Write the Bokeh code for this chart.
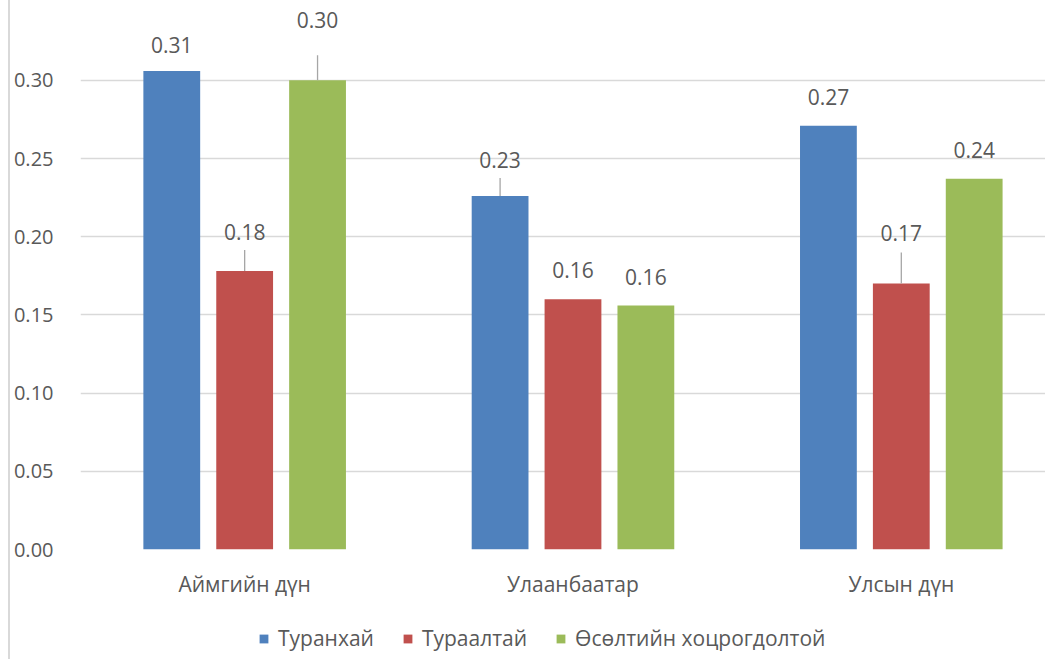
from bokeh.plotting import figure
from bokeh.layouts import column
from bokeh.models import (ColumnDataSource, Range1d, FixedTicker, Legend, LegendItem)
from bokeh.core.properties import value
from bokeh.embed import file_html
from bokeh.resources import INLINE

# ---- data ----
categories = ["Аймгийн дүн", "Улаанбаатар", "Улсын дүн"]
series_names = ["Туранхай", "Тураалтай", "Өсөлтийн хоцрогдолтой"]
turankhai = [0.306, 0.226, 0.271]
turaaltai = [0.178, 0.160, 0.170]
osolt = [0.300, 0.156, 0.237]
y_ticks = [0.00, 0.05, 0.10, 0.15, 0.20, 0.25, 0.30]
y_tick_labels = ["0.00", "0.05", "0.10", "0.15", "0.20", "0.25", "0.30"]

# ---- layout / style ----
colors = ["#4F81BD", "#C0504D", "#9BBB59"]
text_color = "#595959"
font = "Open Sans"
W = 1035
H_main, H_leg = 608, 51
frame_left = 68
frame_h = 549
cat_px = 329.0
px_per_unit = 1564.0
ymax = frame_h / px_per_unit
xend = (W - frame_left) / cat_px
offsets = [-0.222, 0.0, 0.222]
bar_w = 0.173
# label offset above bar top (px) and leader line length (px), per series per category
label_off = [[26, 36, 29], [39, 29, 51], [60, 29, 29]]
leader_len = [[0, 18, 0], [21, 0, 31], [25, 0, 0]]

p = figure(width=W, height=H_main, output_backend="svg", toolbar_location=None,
           x_range=Range1d(0, xend), y_range=Range1d(0, ymax),
           min_border_left=frame_left, min_border_right=0, min_border_top=0,
           min_border_bottom=H_main - frame_h)
p.outline_line_color = None
p.background_fill_color = "white"
p.border_fill_color = "white"

series = [turankhai, turaaltai, osolt]
for si, vals in enumerate(series):
    xs = [ci + 0.5 + offsets[si] for ci in range(len(categories))]
    src = ColumnDataSource(dict(x=xs, top=vals,
                                lbl=["%.2f" % v for v in vals],
                                yoff=[-o for o in label_off[si]],
                                y1=[v + l / px_per_unit for v, l in zip(vals, leader_len[si])]))
    p.vbar(x="x", top="top", width=bar_w, bottom=0, source=src,
           fill_color=colors[si], line_color=None)
    p.segment(x0="x", y0="top", x1="x", y1="y1", source=src,
              line_color="#A6A6A6", line_width=1.3)
    p.text(x="x", y="top", text="lbl", y_offset="yoff", source=src,
           text_align="center", text_baseline="middle",
           text_font=value(font), text_font_size="21px", text_color=text_color)

# axes
p.yaxis.ticker = FixedTicker(ticks=y_ticks)
p.yaxis.major_label_overrides = {t: l for t, l in zip(y_ticks, y_tick_labels)}
p.yaxis.axis_line_color = None
p.yaxis.major_tick_line_color = None
p.yaxis.minor_tick_line_color = None
p.yaxis.major_tick_out = 0
p.yaxis.major_tick_in = 0
p.yaxis.major_label_standoff = 27
p.yaxis.major_label_text_font = font
p.yaxis.major_label_text_font_size = "20px"
p.yaxis.major_label_text_color = text_color

cat_ticks = [i + 0.5 for i in range(len(categories))]
p.xaxis.ticker = FixedTicker(ticks=cat_ticks)
p.xaxis.major_label_overrides = {t: c for t, c in zip(cat_ticks, categories)}
p.xaxis.axis_line_color = None
p.xaxis.major_tick_line_color = None
p.xaxis.minor_tick_line_color = None
p.xaxis.major_tick_out = 0
p.xaxis.major_tick_in = 0
p.xaxis.major_label_standoff = 20
p.xaxis.major_label_text_font = font
p.xaxis.major_label_text_font_size = "21px"
p.xaxis.major_label_text_color = text_color

p.xgrid.grid_line_color = None
p.ygrid.grid_line_color = "#D9D9D9"
p.ygrid.grid_line_width = 1.5
p.ygrid.ticker = FixedTicker(ticks=y_ticks)

# legend figure
pl = figure(width=W, height=H_leg, output_backend="svg", toolbar_location=None,
            x_range=Range1d(0, 1), y_range=Range1d(0, 1),
            x_axis_location=None, y_axis_location=None,
            min_border_left=0, min_border_right=0, min_border_top=0, min_border_bottom=0)
pl.outline_line_color = None
pl.xgrid.grid_line_color = None
pl.ygrid.grid_line_color = None
leg_renderers = [pl.vbar(x=[5], top=[1], width=0.1, fill_color=c, line_color=None) for c in colors]
legend = Legend(items=[LegendItem(label=n, renderers=[r]) for n, r in zip(series_names, leg_renderers)],
                orientation="horizontal", location=(178, 7),
                glyph_width=11, glyph_height=11, label_standoff=9, spacing=28,
                padding=0, margin=0, border_line_color=None, background_fill_alpha=0,
                label_text_font=font, label_text_font_size="21px",
                label_text_color=text_color)
pl.add_layout(legend, "center")

layout = column(p, pl, spacing=0)
layout.styles = {"border-left": "2px solid #D9D9D9", "margin-left": "8px"}

open("out.html", "w").write(file_html(layout, INLINE))
